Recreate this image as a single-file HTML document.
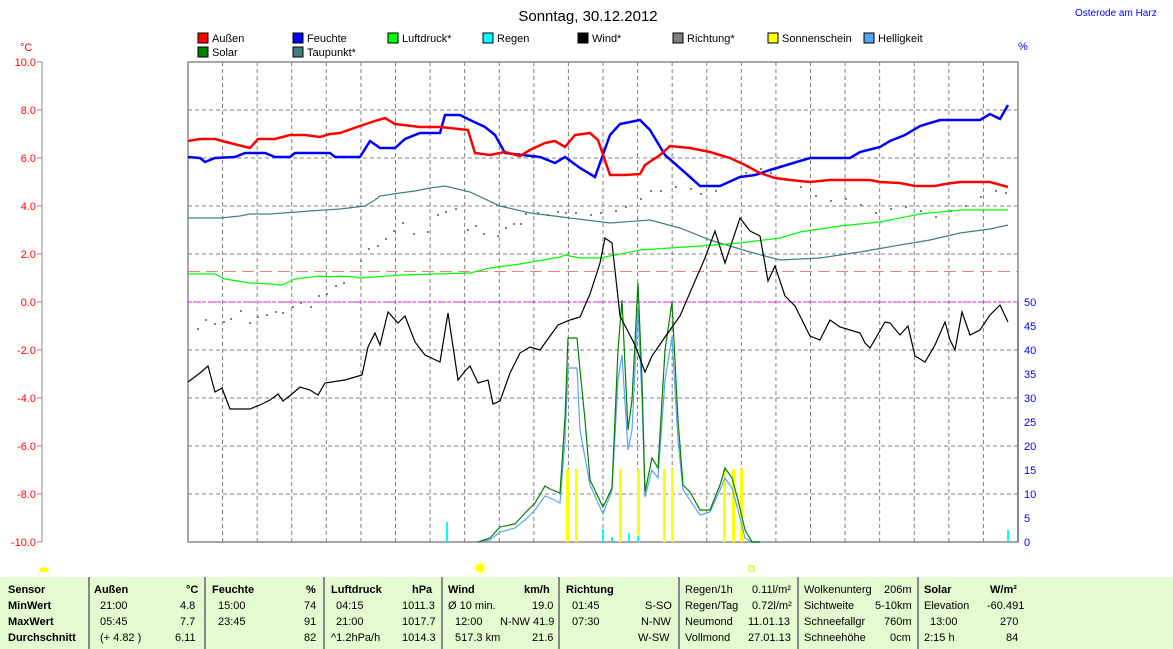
<!DOCTYPE html>
<html><head><meta charset="utf-8"><style>
body{margin:0;background:#fff;width:1173px;height:649px;overflow:hidden;font-family:"Liberation Sans",sans-serif}
svg{position:absolute;left:0;top:0}
.tb{position:absolute;top:577px;left:0;width:1173px;height:72px;background:#e4fad0}
.c{position:absolute;top:577px;height:72px;border-left:2px solid #888}
.t{position:absolute;font-size:11px;color:#000;white-space:nowrap}
.b{font-weight:bold}
</style></head><body>
<svg width="1173" height="649" font-family="Liberation Sans, sans-serif" font-size="11">
<text x="588" y="21" font-size="15" text-anchor="middle">Sonntag, 30.12.2012</text>
<text x="1075" y="16" fill="#00f" font-size="10">Osterode am Harz</text>
<g font-size="11">
<rect x="198" y="33" width="10" height="10" fill="#f00" stroke="#000"/><text x="212" y="42">Außen</text>
<rect x="293" y="33" width="10" height="10" fill="#00f" stroke="#000"/><text x="307" y="42">Feuchte</text>
<rect x="388" y="33" width="10" height="10" fill="#0f0" stroke="#000"/><text x="402" y="42">Luftdruck*</text>
<rect x="483" y="33" width="10" height="10" fill="#0ff" stroke="#000"/><text x="497" y="42">Regen</text>
<rect x="578" y="33" width="10" height="10" fill="#000" stroke="#000"/><text x="592" y="42">Wind*</text>
<rect x="673" y="33" width="10" height="10" fill="#808080" stroke="#000"/><text x="687" y="42">Richtung*</text>
<rect x="768" y="33" width="10" height="10" fill="#ff0" stroke="#000"/><text x="782" y="42">Sonnenschein</text>
<rect x="864" y="33" width="10" height="10" fill="#5aa5f0" stroke="#000"/><text x="878" y="42">Helligkeit</text>
<rect x="198" y="47" width="10" height="10" fill="#008000" stroke="#000"/><text x="212" y="56">Solar</text>
<rect x="293" y="47" width="10" height="10" fill="#408080" stroke="#000"/><text x="307" y="56">Taupunkt*</text>
</g>
<text x="20" y="51" fill="#f00" font-size="11">°C</text>
<text x="1018" y="50" fill="#00f" font-size="11">%</text>
<line x1="42" y1="62" x2="42" y2="542" stroke="#888"/>
<g fill="#f00" text-anchor="end" font-size="11">
<text x="36" y="66">10.0</text><text x="36" y="114">8.0</text><text x="36" y="162">6.0</text><text x="36" y="210">4.0</text><text x="36" y="258">2.0</text><text x="36" y="306">0.0</text><text x="36" y="354">-2.0</text><text x="36" y="402">-4.0</text><text x="36" y="450">-6.0</text><text x="36" y="498">-8.0</text><text x="36" y="546">-10.0</text>
</g>
<g stroke="#888"><line x1="37" y1="62" x2="42" y2="62"/><line x1="37" y1="110" x2="42" y2="110"/><line x1="37" y1="158" x2="42" y2="158"/><line x1="37" y1="206" x2="42" y2="206"/><line x1="37" y1="254" x2="42" y2="254"/><line x1="37" y1="302" x2="42" y2="302"/><line x1="37" y1="350" x2="42" y2="350"/><line x1="37" y1="398" x2="42" y2="398"/><line x1="37" y1="446" x2="42" y2="446"/><line x1="37" y1="494" x2="42" y2="494"/><line x1="37" y1="542" x2="42" y2="542"/></g>
<g fill="#00f" font-size="11">
<text x="1024" y="306">50</text><text x="1024" y="330">45</text><text x="1024" y="354">40</text><text x="1024" y="378">35</text><text x="1024" y="402">30</text><text x="1024" y="426">25</text><text x="1024" y="450">20</text><text x="1024" y="474">15</text><text x="1024" y="498">10</text><text x="1024" y="522">5</text><text x="1024" y="546">0</text>
</g>
<g stroke="#808080" stroke-dasharray="4,3" id="grid"></g>
<rect x="188" y="62" width="830" height="480" fill="none" stroke="#888" stroke-width="1.5"/>
<line x1="1018" y1="302" x2="1018" y2="542" stroke="#888" stroke-width="2"/>
<line x1="188" y1="271.5" x2="1018" y2="271.5" stroke="#f08080" stroke-dasharray="12,6"/>
<line x1="188" y1="302" x2="1018" y2="302" stroke="#f0f" stroke-dasharray="3,2"/>
<g id="dots" fill="#808080"></g>
<g fill="#ff0">
<rect x="566" y="469" width="3" height="73"/><rect x="575" y="469" width="3" height="73"/><rect x="619" y="469" width="3" height="73"/><rect x="637" y="469" width="3" height="73"/><rect x="663" y="469" width="3" height="73"/><rect x="671" y="469" width="3" height="73"/><rect x="723" y="469" width="3" height="73"/><rect x="732" y="469" width="3" height="73"/><rect x="740" y="469" width="3" height="73"/>
</g>
<g fill="#0ff"><rect x="446" y="522" width="2" height="20"/><rect x="602" y="529" width="2" height="13"/><rect x="611" y="537" width="2" height="5"/><rect x="628" y="533" width="2" height="9"/><rect x="637" y="536" width="2" height="6"/><rect x="1007" y="530" width="2" height="12"/></g>
<polyline fill="none" stroke="#5aa5f0" stroke-width="1.2" points="478,542 490,540 500,532 515,528 525,520 535,510 545,496 550,498 560,503 565,440 568,368 577,368 580,430 590,485 603,514 612,490 618,380 622,355 628,450 632,430 638,310 642,400 645,497 652,470 658,478 665,380 672,337 678,440 683,490 690,500 700,515 710,512 720,490 725,478 732,488 738,510 745,538 752,542 760,542"/>
<polyline fill="none" stroke="#008000" stroke-width="1.2" points="478,542 490,538 500,527 515,524 525,513 535,503 545,486 550,489 560,493 565,418 568,338 577,338 580,370 585,420 590,480 603,507 612,488 618,350 622,300 628,430 632,400 638,283 642,380 645,492 652,458 658,468 665,350 672,302 678,420 683,485 690,492 700,510 710,510 720,485 725,468 732,478 738,500 745,530 752,542 760,542"/>
<polyline fill="none" stroke="#408080" stroke-width="1.2" points="188,218 220,218 240,216 250,214 270,214 310,211 340,209 365,206 375,200 380,196 400,193 415,191 430,188 445,186 470,192 500,206 530,213 570,218 610,223 650,220 680,228 710,240 750,252 780,260 820,258 860,252 900,245 930,240 960,233 990,229 1008,225"/>
<polyline fill="none" stroke="#0f0" stroke-width="1.2" points="188,274 215,274 225,279 250,283 270,284 282,285 295,279 320,276 330,277 340,276 355,277 360,278 400,275 470,273 490,268 520,264 560,257 565,255 580,258 600,258 640,250 700,246 740,243 780,238 800,232 840,226 880,222 920,214 960,210 1008,210"/>
<polyline fill="none" stroke="#000" stroke-width="1.2" points="188,382 200,373 208,366 215,392 222,388 230,409 250,409 262,404 270,400 278,394 283,401 292,394 300,387 310,390 318,395 325,383 345,380 362,375 368,347 375,333 380,345 388,312 398,323 405,316 415,342 425,355 440,362 448,313 458,380 465,371 470,366 478,383 488,380 493,404 500,401 510,373 520,353 530,347 540,350 545,343 558,325 570,320 580,317 590,294 600,263 605,238 612,243 620,316 635,345 645,372 652,356 665,337 680,316 695,281 705,258 715,231 725,263 740,218 750,231 760,236 768,281 775,266 785,296 795,306 810,336 820,340 830,320 840,327 850,330 860,333 865,343 870,348 885,322 890,323 900,335 908,326 915,356 925,362 935,345 945,322 950,340 955,350 962,312 970,335 980,330 990,315 1000,305 1008,322"/>
<polyline fill="none" stroke="#00f" stroke-width="2.5" points="188,157 200,158 205,162 215,158 235,157 245,153 265,153 275,157 290,157 295,153 330,153 335,157 360,157 370,141 380,148 395,148 405,139 420,133 440,133 445,115 460,115 470,120 485,127 495,135 505,153 540,157 555,163 565,157 580,168 595,177 610,135 620,124 640,120 650,130 665,155 690,177 700,186 720,186 740,177 755,175 770,170 790,164 810,158 850,158 860,152 880,147 890,141 905,135 920,126 940,120 980,120 990,114 1000,119 1008,105"/>
<polyline fill="none" stroke="#f00" stroke-width="2.5" points="188,141 200,139 215,139 230,143 250,148 258,139 275,139 290,135 305,135 320,137 330,134 340,133 360,126 375,121 385,118 395,124 420,127 440,127 450,128 468,130 475,153 490,155 505,152 520,156 530,150 545,143 555,141 565,147 575,135 590,133 598,140 610,175 625,175 640,174 645,165 660,155 670,146 690,148 710,152 730,158 745,165 760,173 775,178 790,180 810,182 830,180 870,180 880,182 900,183 915,186 935,186 945,184 960,182 990,182 1008,187"/>
<path d="M39,572 a5,5 0 0 1 10,0 z" fill="#ff0"/>
<circle cx="480" cy="568" r="4" fill="#ff0"/>
<g stroke="#ff0" stroke-width="1.2"><line x1="480" y1="561" x2="480" y2="575"/><line x1="473" y1="568" x2="487" y2="568"/><line x1="475" y1="563" x2="485" y2="573"/><line x1="485" y1="563" x2="475" y2="573"/></g>
<rect x="749" y="566" width="5" height="5" fill="none" stroke="#ee0" stroke-width="1.2"/>
</svg>
<div class="tb"></div>
<div class="c" style="left:88px"></div><div class="c" style="left:204px"></div><div class="c" style="left:323px"></div><div class="c" style="left:441px"></div><div class="c" style="left:558px"></div><div class="c" style="left:678px"></div><div class="c" style="left:797px"></div><div class="c" style="left:917px"></div>
<div class="t b" style="left:8px;top:584px">Sensor</div><div class="t b" style="left:8px;top:600px">MinWert</div><div class="t b" style="left:8px;top:616px">MaxWert</div><div class="t b" style="left:8px;top:632px">Durchschnitt</div>
<div class="t b" style="left:94px;top:584px">Außen</div><div class="t b" style="left:186px;top:584px">°C</div>
<div class="t" style="left:100px;top:600px">21:00</div><div class="t" style="left:180px;top:600px">4.8</div>
<div class="t" style="left:100px;top:616px">05:45</div><div class="t" style="left:180px;top:616px">7.7</div>
<div class="t" style="left:100px;top:632px">(+ 4.82 )</div><div class="t" style="left:175px;top:632px">6.11</div>
<div class="t b" style="left:212px;top:584px">Feuchte</div><div class="t b" style="left:306px;top:584px">%</div>
<div class="t" style="left:218px;top:600px">15:00</div><div class="t" style="left:304px;top:600px">74</div>
<div class="t" style="left:218px;top:616px">23:45</div><div class="t" style="left:304px;top:616px">91</div>
<div class="t" style="left:304px;top:632px">82</div>
<div class="t b" style="left:331px;top:584px">Luftdruck</div><div class="t b" style="left:412px;top:584px">hPa</div>
<div class="t" style="left:336px;top:600px">04:15</div><div class="t" style="left:402px;top:600px">1011.3</div>
<div class="t" style="left:336px;top:616px">21:00</div><div class="t" style="left:402px;top:616px">1017.7</div>
<div class="t" style="left:331px;top:632px">^1.2hPa/h</div><div class="t" style="left:402px;top:632px">1014.3</div>
<div class="t b" style="left:448px;top:584px">Wind</div><div class="t b" style="left:524px;top:584px">km/h</div>
<div class="t" style="left:448px;top:600px">Ø 10 min.</div><div class="t" style="left:532px;top:600px">19.0</div>
<div class="t" style="left:455px;top:616px">12:00</div><div class="t" style="left:500px;top:616px">N-NW 41.9</div>
<div class="t" style="left:455px;top:632px">517.3 km</div><div class="t" style="left:532px;top:632px">21.6</div>
<div class="t b" style="left:566px;top:584px">Richtung</div>
<div class="t" style="left:572px;top:600px">01:45</div><div class="t" style="left:645px;top:600px">S-SO</div>
<div class="t" style="left:572px;top:616px">07:30</div><div class="t" style="left:641px;top:616px">N-NW</div>
<div class="t" style="left:638px;top:632px">W-SW</div>
<div class="t" style="left:685px;top:584px">Regen/1h</div><div class="t" style="left:752px;top:584px">0.11l/m²</div>
<div class="t" style="left:685px;top:600px">Regen/Tag</div><div class="t" style="left:752px;top:600px">0.72l/m²</div>
<div class="t" style="left:685px;top:616px">Neumond</div><div class="t" style="left:748px;top:616px">11.01.13</div>
<div class="t" style="left:685px;top:632px">Vollmond</div><div class="t" style="left:748px;top:632px">27.01.13</div>
<div class="t" style="left:804px;top:584px">Wolkenunterg</div><div class="t" style="left:884px;top:584px">206m</div>
<div class="t" style="left:804px;top:600px">Sichtweite</div><div class="t" style="left:875px;top:600px">5-10km</div>
<div class="t" style="left:804px;top:616px">Schneefallgr</div><div class="t" style="left:884px;top:616px">760m</div>
<div class="t" style="left:804px;top:632px">Schneehöhe</div><div class="t" style="left:890px;top:632px">0cm</div>
<div class="t b" style="left:924px;top:584px">Solar</div><div class="t b" style="left:990px;top:584px">W/m²</div>
<div class="t" style="left:924px;top:600px">Elevation</div><div class="t" style="left:987px;top:600px">-60.491</div>
<div class="t" style="left:930px;top:616px">13:00</div><div class="t" style="left:1000px;top:616px">270</div>
<div class="t" style="left:924px;top:632px">2:15 h</div><div class="t" style="left:1006px;top:632px">84</div>
<script>
var g=document.getElementById('grid'),s='';
for(var i=1;i<24;i++){var x=188+i*830/24;s+='<line x1="'+x+'" y1="62" x2="'+x+'" y2="542"/>';}
for(var j=1;j<10;j++){var y=62+j*48;s+='<line x1="188" y1="'+y+'" x2="1018" y2="'+y+'"/>';}
g.innerHTML=s;
var d=[[197,328],[205,319],[214,323],[223,321],[230,318],[240,310],[249,322],[257,316],[266,314],[275,311],[282,312],[292,306],[300,302],[310,306],[318,295],[326,293],[335,285],[343,282],[360,260],[368,248],[377,245],[385,238],[393,230],[402,222],[413,233],[427,231],[437,214],[445,211],[455,208],[467,229],[475,225],[483,233],[497,235],[505,227],[513,223],[520,223],[525,213],[537,212],[547,214],[557,211],[565,212],[575,212],[590,214],[600,212],[615,210],[625,206],[640,198],[650,190],[660,190],[675,186],[690,188],[700,193],[715,190],[730,180],[745,172],[760,168],[770,172],[785,178],[800,186],[815,195],[830,200],[845,198],[860,204],[875,212],[890,208],[905,206],[920,210],[935,216],[950,210],[965,205],[980,196],[995,190],[1005,192]];
var t='';d.forEach(function(p){t+='<rect x="'+p[0]+'" y="'+p[1]+'" width="2" height="2"/>';});
document.getElementById('dots').innerHTML=t;
</script>
</body></html>
